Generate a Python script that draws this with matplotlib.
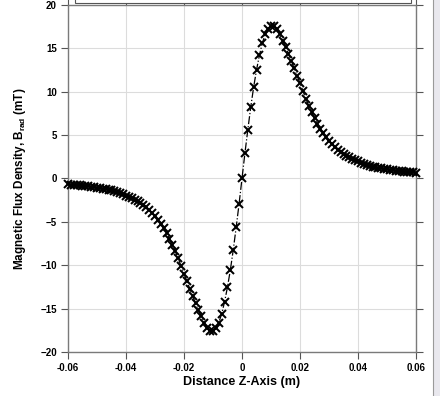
import numpy as np
import matplotlib
matplotlib.use('Agg')
import matplotlib.pyplot as plt
from matplotlib.patches import Rectangle

# distance along z axis (m) and radial flux density (mT)
z = [-0.060, -0.059, -0.058, -0.057, -0.056, -0.055, -0.054, -0.053, -0.052, -0.051,
     -0.050, -0.049, -0.048, -0.047, -0.046, -0.045, -0.044, -0.043, -0.042, -0.041,
     -0.040, -0.039, -0.038, -0.037, -0.036, -0.035, -0.034, -0.033, -0.032, -0.031,
     -0.030, -0.029, -0.028, -0.027, -0.026, -0.025, -0.024, -0.023, -0.022, -0.021,
     -0.020, -0.019, -0.018, -0.017, -0.016, -0.015, -0.014, -0.013, -0.012, -0.011,
     -0.010, -0.009, -0.008, -0.007, -0.006, -0.005, -0.004, -0.003, -0.002, -0.001,
     0.000,
     0.001, 0.002, 0.003, 0.004, 0.005, 0.006, 0.007, 0.008, 0.009, 0.010,
     0.011, 0.012, 0.013, 0.014, 0.015, 0.016, 0.017, 0.018, 0.019, 0.020,
     0.021, 0.022, 0.023, 0.024, 0.025, 0.026, 0.027, 0.028, 0.029, 0.030,
     0.031, 0.032, 0.033, 0.034, 0.035, 0.036, 0.037, 0.038, 0.039, 0.040,
     0.041, 0.042, 0.043, 0.044, 0.045, 0.046, 0.047, 0.048, 0.049, 0.050,
     0.051, 0.052, 0.053, 0.054, 0.055, 0.056, 0.057, 0.058, 0.059, 0.060]

b_rad = [-0.67, -0.70, -0.73, -0.76, -0.79, -0.83, -0.87, -0.91, -0.95, -1.00,
         -1.05, -1.10, -1.16, -1.23, -1.30, -1.38, -1.47, -1.56, -1.66, -1.77,
         -1.97, -2.11, -2.26, -2.43, -2.62, -2.80, -3.03, -3.30, -3.60, -3.95,
         -4.33, -4.75, -5.20, -5.70, -6.30, -6.95, -7.65, -8.40, -9.20, -10.10,
         -11.00, -11.85, -12.70, -13.55, -14.40, -15.20, -15.90, -16.65, -17.20, -17.55,
         -17.55, -17.20, -16.60, -15.60, -14.20, -12.50, -10.50, -8.20, -5.60, -2.90,
         0.00,
         2.90, 5.60, 8.20, 10.50, 12.50, 14.20, 15.60, 16.60, 17.20, 17.55,
         17.55, 17.20, 16.65, 15.90, 15.20, 14.40, 13.55, 12.70, 11.85, 11.00,
         10.10, 9.20, 8.40, 7.65, 6.95, 6.30, 5.70, 5.20, 4.75, 4.33,
         3.95, 3.60, 3.30, 3.03, 2.80, 2.62, 2.43, 2.26, 2.11, 1.97,
         1.77, 1.66, 1.56, 1.47, 1.38, 1.30, 1.23, 1.16, 1.10, 1.05,
         1.00, 0.95, 0.91, 0.87, 0.83, 0.79, 0.76, 0.73, 0.70, 0.67]

xticks = [-0.06, -0.04, -0.02, 0, 0.02, 0.04, 0.06]
xlabels = ['-0.06', '-0.04', '-0.02', '0', '0.02', '0.04', '0.06']
yticks = [-20, -15, -10, -5, 0, 5, 10, 15, 20]

plt.rcParams['font.family'] = ['Liberation Sans', 'DejaVu Sans']
plt.rcParams['font.weight'] = 'bold'

fig = plt.figure(figsize=(4.4, 3.96), dpi=100)
ax = fig.add_axes([0.1545, 0.1111, 0.791, 0.8763])

ax.plot(z, b_rad, color='black', linestyle='-.', linewidth=0.9,
        marker='x', markersize=5.2, markeredgewidth=1.45, clip_on=False, zorder=3)

ax.set_xlim(-0.06, 0.06)
ax.set_ylim(-20, 20)
ax.set_xticks(xticks)
ax.set_xticklabels(xlabels)
ax.set_yticks(yticks)
ax.grid(True, color='#dcdcdc', linewidth=0.8)
ax.tick_params(direction='out', length=5, width=0.8, color='#555555',
               labelsize=7, pad=3, top=True, right=True)
for lbl in ax.get_xticklabels() + ax.get_yticklabels():
    lbl.set_fontweight('bold')
for s in ax.spines.values():
    s.set_color('#7a7a7a')
    s.set_linewidth(1.0)

ax.set_xlabel('Distance Z-Axis (m)', fontsize=9, fontweight='bold', labelpad=2)
ax.set_ylabel(r'Magnetic Flux Density, B$_\mathregular{rad}$ (mT)',
              fontsize=8.5, fontweight='bold', labelpad=9)

# cropped legend box at top and side panel of the screenshot
fig.patches.append(Rectangle((75 / 440, 1 - 2.7 / 396), 336 / 440, 0.05,
                             transform=fig.transFigure, facecolor='white',
                             edgecolor='#555555', linewidth=0.8, zorder=5))
fig.patches.append(Rectangle((433 / 440, -0.01), 0.03, 1.02,
                             transform=fig.transFigure, facecolor='#e9e8ee',
                             edgecolor='#9a9a9a', linewidth=0.8))

fig.savefig('out.png', dpi=100)
